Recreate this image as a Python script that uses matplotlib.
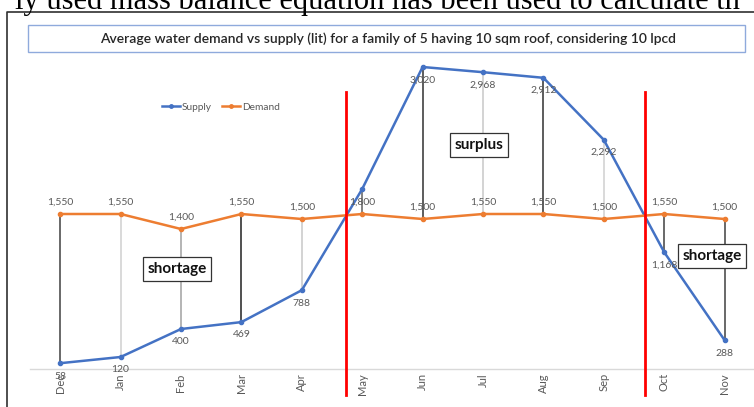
import matplotlib
matplotlib.use("Agg")
import matplotlib.pyplot as plt
from matplotlib.patches import Rectangle
from matplotlib.lines import Line2D

months = ["Dec", "Jan", "Feb", "Mar", "Apr", "May", "Jun", "Jul", "Aug", "Sep", "Oct", "Nov"]
supply = [58, 120, 400, 469, 788, 1800, 3020, 2968, 2912, 2292, 1168, 288]
demand = [1550, 1550, 1400, 1550, 1500, 1550, 1500, 1550, 1550, 1500, 1550, 1500]
title = "Average water demand vs supply (lit) for a family of 5 having 10 sqm roof, considering 10 lpcd"
page_text = "ly used mass balance equation has been used to calculate th"
boundaries = [4.73, 9.68]   # red separators (category units)

W, H = 754, 407
fig = plt.figure(figsize=(W / 100, H / 100), dpi=100)
fig.patch.set_facecolor("white")

def fx(px):
    return px / W

def fy(py):
    return 1 - py / H

BLUE = "#4472C4"
ORANGE = "#ED7D31"
GRAY = "#595959"
FONT = ["Lato", "DejaVu Sans"]

# axes: category 0 at x=60px, 60.4 px per category; value 0 at y=369px, 0.1 px per unit
left_px, right_px = 30, 754
ymax = 3200
ax = fig.add_axes([fx(left_px), fy(369), fx(right_px - left_px), 320 / H])
ax.set_xlim(-0.5, -0.5 + (right_px - left_px) / 60.4)
ax.set_ylim(0, ymax)
for s in ["top", "right", "left"]:
    ax.spines[s].set_visible(False)
ax.spines["bottom"].set_color("#D9D9D9")
ax.spines["bottom"].set_linewidth(1)
ax.set_yticks([])
x = list(range(len(months)))
ax.set_xticks(x)
ax.set_xticklabels(months, rotation=90, fontsize=8, color=GRAY, family=FONT)
ax.tick_params(axis="x", length=0, pad=3)

# high-low lines
hl_colors = ["#404040", "#d0d0d0", "#a0a0a0", "#202020", "#c8c8c8", "#606060",
             "#303030", "#c8c8c8", "#303030", "#d0d0d0", "#404040", "#404040"]
for i in x:
    ax.plot([i, i], [supply[i], demand[i]], color=hl_colors[i], lw=1.1, zorder=1)

ax.plot(x, supply, color=BLUE, lw=1.8, marker="o", ms=3, zorder=3, label="Supply")
ax.plot(x, demand, color=ORANGE, lw=1.8, marker="o", ms=3, zorder=3, label="Demand")

# data labels
for i in x:
    ax.annotate(f"{supply[i]:,}", (i, supply[i]), xytext=(0, -6), textcoords="offset points",
                ha="center", va="top", fontsize=7.5, color=GRAY, family=FONT, zorder=4)
    if i != 5:
        ax.annotate(f"{demand[i]:,}", (i, demand[i]), xytext=(0, 5), textcoords="offset points",
                    ha="center", va="bottom", fontsize=7.5, color=GRAY, family=FONT, zorder=4)

# red separators
for b in boundaries:
    ax.plot([b, b], [2770, -260], color="#FF0000", lw=2, clip_on=False, zorder=5)

# annotation boxes
def boxed(px, py, txt):
    fig.text(fx(px), fy(py), txt, ha="center", va="center", fontsize=11, fontweight="bold",
             family=FONT, color="#111111", zorder=10,
             bbox=dict(boxstyle="square,pad=0.3", fc="white", ec="#333333", lw=0.9))

boxed(177, 269, "shortage")
boxed(479, 145, "surplus")
boxed(712, 256, "shortage")

# legend
handles = [Line2D([], [], color=BLUE, lw=1.8, marker="o", ms=2.5),
           Line2D([], [], color=ORANGE, lw=1.8, marker="o", ms=2.5)]
fig.legend(handles, ["Supply", "Demand"], loc="center", bbox_to_anchor=(fx(221), fy(107)),
           ncol=2, frameon=False, handlelength=1.8, handletextpad=0.2,
           columnspacing=1.0, labelcolor=GRAY, prop={"family": FONT, "size": 7.3})

# chart border (left & top visible)
fig.add_artist(Line2D([fx(7), fx(7), fx(754)], [fy(407), fy(12), fy(12)],
                      transform=fig.transFigure, color="#303030", lw=1.2))

# title box with slight shadow
fig.add_artist(Rectangle((fx(29), fy(53)), fx(745 - 28), (53 - 26) / H, transform=fig.transFigure,
                         fc="#d9dde6", ec="none", zorder=1))
fig.add_artist(Rectangle((fx(28), fy(52)), fx(745 - 28), (52 - 25) / H, transform=fig.transFigure,
                         fc="white", ec="#8FAADC", lw=1, zorder=2))
fig.text(fx(388), fy(38.5), title, ha="center", va="center", fontsize=10, fontweight="semibold",
         family=FONT, color="#262626", zorder=3)

# page text cut at top
fig.text(fx(377), fy(9), page_text, ha="center", va="baseline", fontsize=22,
         family=["Liberation Serif", "DejaVu Serif"], color="black")

fig.savefig("out.png", dpi=100)
